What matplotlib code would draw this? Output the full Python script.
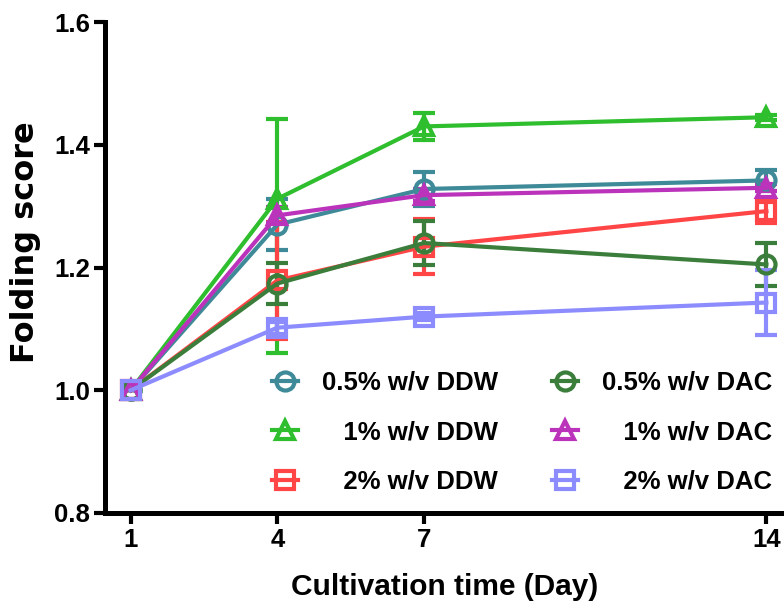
import matplotlib
matplotlib.use("Agg")
import matplotlib.pyplot as plt
from matplotlib.lines import Line2D

plt.rcParams['font.family'] = ['Liberation Sans', 'DejaVu Sans']
plt.rcParams['font.weight'] = 'bold'

days = [1, 4, 7, 14]
labels = ["0.5% w/v DDW", "   1% w/v DDW", "   2% w/v DDW",
          "0.5% w/v DAC", "   1% w/v DAC", "   2% w/v DAC"]
means = {
    "0.5% w/v DDW": [1.0, 1.270, 1.328, 1.342],
    "1% w/v DDW":   [1.0, 1.312, 1.430, 1.445],
    "2% w/v DDW":   [1.0, 1.179, 1.234, 1.292],
    "0.5% w/v DAC": [1.0, 1.174, 1.240, 1.205],
    "1% w/v DAC":   [1.0, 1.285, 1.318, 1.330],
    "2% w/v DAC":   [1.0, 1.102, 1.120, 1.143],
}
err_low = {
    "0.5% w/v DDW": [0.0, 0.042, 0.028, 0.017],
    "1% w/v DDW":   [0.0, 0.252, 0.022, 0.004],
    "2% w/v DDW":   [0.0, 0.095, 0.045, 0.020],
    "0.5% w/v DAC": [0.0, 0.033, 0.036, 0.035],
    "1% w/v DAC":   [0.0, 0.013, 0.010, 0.006],
    "2% w/v DAC":   [0.0, 0.010, 0.006, 0.053],
}
err_high = {
    "0.5% w/v DDW": [0.0, 0.042, 0.028, 0.017],
    "1% w/v DDW":   [0.0, 0.130, 0.022, 0.004],
    "2% w/v DDW":   [0.0, 0.095, 0.045, 0.020],
    "0.5% w/v DAC": [0.0, 0.033, 0.036, 0.035],
    "1% w/v DAC":   [0.0, 0.013, 0.010, 0.006],
    "2% w/v DAC":   [0.0, 0.010, 0.006, 0.053],
}
colors = ["#3F8A98", "#2EBE2E", "#FF4545", "#3B7E3B", "#BB33BB", "#8C8CFF"]
markers = ["o", "^", "s", "o", "^", "s"]
yticks = [0.8, 1.0, 1.2, 1.4, 1.6]

fig = plt.figure(figsize=(7.84, 6.06), dpi=100)
ax = fig.add_axes([0.1345, 0.1535, 0.8655, 0.81])

keys = list(means.keys())
handles = []
for k, lab, c, m in zip(keys, labels, colors, markers):
    ax.errorbar(days, means[k], yerr=[err_low[k], err_high[k]],
                color=c, marker=m, markersize=13, markerfacecolor='none',
                markeredgewidth=3, linewidth=3, elinewidth=3,
                capsize=8, capthick=3, clip_on=False)
    handles.append(Line2D([], [], color=c, marker=m, markersize=13,
                          markerfacecolor='none', markeredgewidth=3, linewidth=3))

ax.set_xlim(0.485, 14.36)
ax.set_ylim(0.8, 1.6)
ax.set_xticks(days)
ax.set_xticklabels([str(d) for d in days])
ax.set_yticks(yticks)
ax.set_yticklabels([f"{v:.1f}" for v in yticks])
for s in ['top', 'right']:
    ax.spines[s].set_visible(False)
for s in ['left', 'bottom']:
    ax.spines[s].set_linewidth(3.6)
ax.tick_params(axis='both', width=3, length=8, labelsize=18.5, pad=3)
ax.set_xlabel("Cultivation time (Day)", fontsize=21.5, fontweight='bold', labelpad=15)
ax.set_ylabel("Folding score", fontsize=23, fontweight='bold',
              family=['DejaVu Sans'])
ax.yaxis.set_label_coords(-0.095, 0.551)

leg = ax.legend(handles=handles, labels=labels, ncol=2, frameon=False,
                loc='upper left', bbox_to_anchor=(272 / 784, 1 - 371 / 606),
                bbox_transform=fig.transFigure, borderpad=0, borderaxespad=0,
                prop={'family': ['Liberation Sans', 'DejaVu Sans'], 'weight': 'bold', 'size': 18.5},
                handlelength=1.0, handletextpad=0.95,
                columnspacing=2.1, labelspacing=0.99)

fig.savefig("out.png", dpi=100)
